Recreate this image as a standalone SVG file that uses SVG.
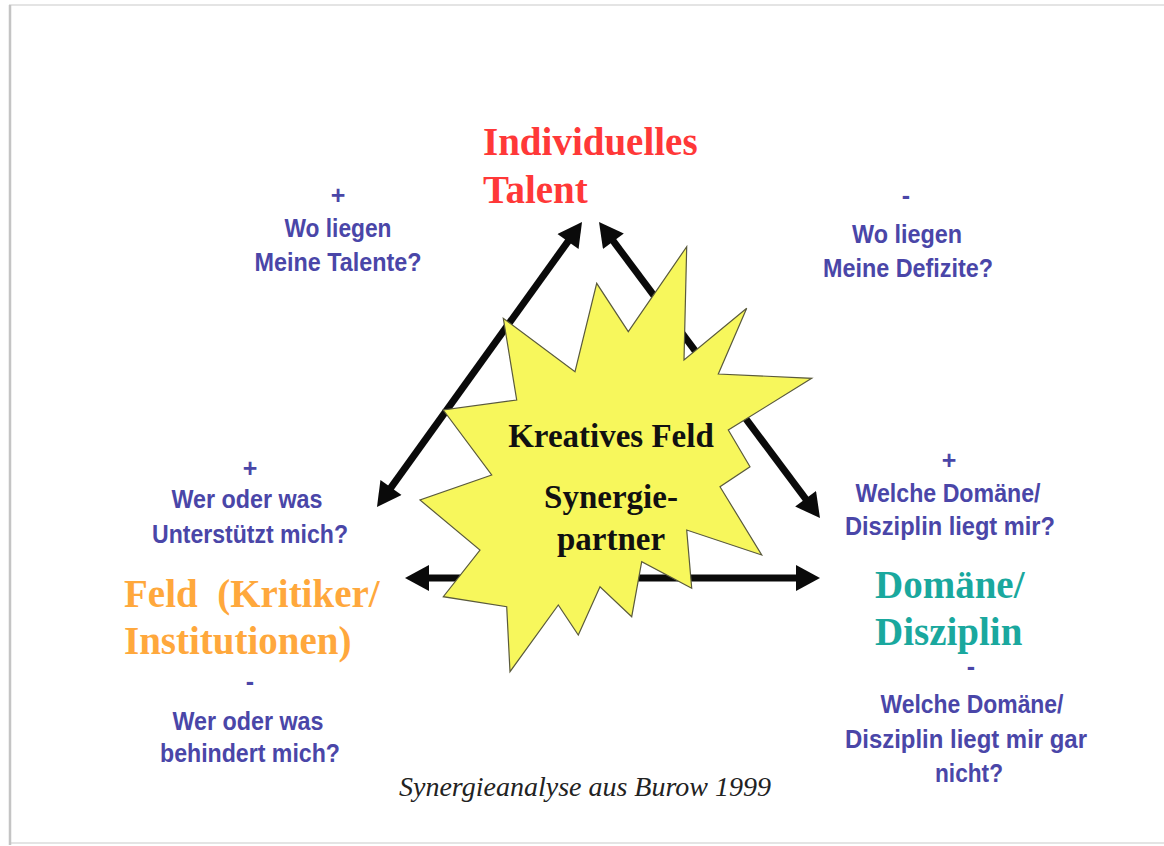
<svg xmlns="http://www.w3.org/2000/svg" width="1164" height="846" viewBox="0 0 1164 846">
<style>
.q{font-family:"Liberation Sans",Arial,sans-serif;font-weight:bold;font-size:25px;fill:#4a46a8;text-anchor:middle}
.h{font-family:"Liberation Serif","Times New Roman",serif;font-weight:bold;font-size:39px}
.c{font-family:"Liberation Serif","Times New Roman",serif;font-weight:bold;font-size:33px;fill:#111;text-anchor:middle}
.cap{font-family:"Liberation Serif","Times New Roman",serif;font-style:italic;font-size:28px;fill:#222;text-anchor:middle}
.arr{stroke:#0a0a0a;stroke-width:7;fill:none}
</style>
<defs>
<marker id="ah" markerUnits="userSpaceOnUse" markerWidth="26" markerHeight="26" viewBox="0 0 24 26" refX="6" refY="13" orient="auto-start-reverse">
<path d="M0,0 L24,13 L0,26 z" fill="#0a0a0a"/>
</marker>
</defs>
<rect x="0" y="0" width="1164" height="846" fill="#ffffff"/>
<g id="frame">
<rect x="10" y="5" width="1160" height="838" fill="#ffffff" stroke="#e4e4e4" stroke-width="2"/>
<line x1="10" y1="5" x2="10" y2="845" stroke="#c4c4c4" stroke-width="2.5"/>
</g>
<g id="connectors">
<line class="arr" x1="387.5" y1="492.4" x2="571.5" y2="236.6" marker-start="url(#ah)" marker-end="url(#ah)"/>
<line class="arr" x1="609.8" y1="236.4" x2="809.2" y2="503.6" marker-start="url(#ah)" marker-end="url(#ah)"/>
<line class="arr" x1="423" y1="578" x2="802" y2="578" marker-start="url(#ah)" marker-end="url(#ah)"/>
</g>
<g id="star">
<polygon points="686.7,246.7 684,360 746.7,308.3 718.3,374 811.7,378.3 728.3,430 750,466.7 720,486.7 761.7,555 686.7,530 691.7,588.3 641.7,561.7 631.7,616.7 600,586.7 578.3,635 558.3,605 510,671.7 506.7,606.7 443.3,596.7 480,550 420,500 491.7,475 443.3,410 516.7,400 503.3,318.3 575,371.7 596.7,283.3 628.3,331.7" fill="#f7f75c" stroke="#5a5a3c" stroke-width="1.2" stroke-linejoin="miter"/>
<text class="c" x="611" y="447">Kreatives Feld</text>
<text class="c" x="611" y="508">Synergie-</text>
<text class="c" x="611" y="550">partner</text>
</g>
<g id="talent">
<text class="h" x="483" y="155" fill="#ff3838">Individuelles</text>
<text class="h" x="483" y="203" fill="#ff3838">Talent</text>
</g>
<g id="talent-plus">
<text class="q" x="338" y="204">+</text>
<text class="q" x="338" y="237" textLength="107" lengthAdjust="spacingAndGlyphs">Wo liegen</text>
<text class="q" x="338" y="271" textLength="167" lengthAdjust="spacingAndGlyphs">Meine Talente?</text>
</g>
<g id="talent-minus">
<text class="q" x="906" y="204">-</text>
<text class="q" x="907" y="243" textLength="110" lengthAdjust="spacingAndGlyphs">Wo liegen</text>
<text class="q" x="908" y="277" textLength="170" lengthAdjust="spacingAndGlyphs">Meine Defizite?</text>
</g>
<g id="feld">
<text class="h" x="124" y="607" fill="#ffa83c" xml:space="preserve">Feld  (Kritiker/</text>
<text class="h" x="124" y="654" fill="#ffa83c">Institutionen)</text>
</g>
<g id="feld-plus">
<text class="q" x="250" y="477">+</text>
<text class="q" x="247" y="508" textLength="151" lengthAdjust="spacingAndGlyphs">Wer oder was</text>
<text class="q" x="250" y="543" textLength="196" lengthAdjust="spacingAndGlyphs">Unterstützt mich?</text>
</g>
<g id="feld-minus">
<text class="q" x="250" y="690">-</text>
<text class="q" x="248" y="730" textLength="151" lengthAdjust="spacingAndGlyphs">Wer oder was</text>
<text class="q" x="250" y="762" textLength="180" lengthAdjust="spacingAndGlyphs">behindert mich?</text>
</g>
<g id="domaene">
<text class="h" x="875" y="598" fill="#1aa89e">Domäne/</text>
<text class="h" x="875" y="645" fill="#1aa89e">Disziplin</text>
</g>
<g id="domaene-plus">
<text class="q" x="949" y="469">+</text>
<text class="q" x="948" y="502" textLength="185" lengthAdjust="spacingAndGlyphs">Welche Domäne/</text>
<text class="q" x="950" y="535" textLength="210" lengthAdjust="spacingAndGlyphs">Disziplin liegt mir?</text>
</g>
<g id="domaene-minus">
<text class="q" x="971" y="675">-</text>
<text class="q" x="972" y="713" textLength="183" lengthAdjust="spacingAndGlyphs">Welche Domäne/</text>
<text class="q" x="966" y="748" textLength="242" lengthAdjust="spacingAndGlyphs">Disziplin liegt mir gar</text>
<text class="q" x="969" y="782" textLength="68" lengthAdjust="spacingAndGlyphs">nicht?</text>
</g>
<text class="cap" x="585" y="796">Synergieanalyse aus Burow 1999</text>
</svg>
